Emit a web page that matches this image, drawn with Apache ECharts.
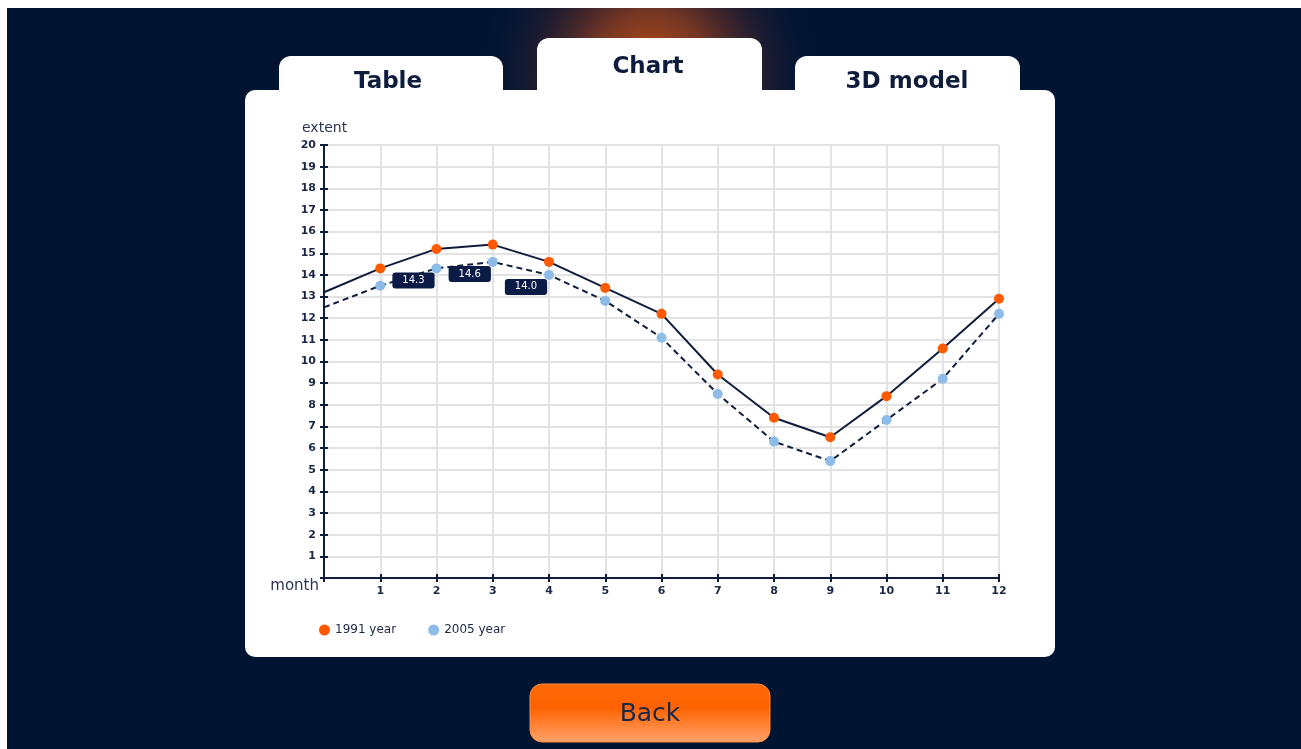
<!DOCTYPE html>
<html>
<head>
<meta charset="utf-8">
<title>Chart</title>
<script src="https://cdn.jsdelivr.net/npm/echarts@6/dist/echarts.min.js"></script>
<style>
  html, body { margin: 0; padding: 0; background: #ffffff; }
  #main { width: 1301px; height: 749px; }
</style>
</head>
<body>
<div id="main"></div>
<script>
// Monthly extent for two years (month 0 is the starting point of the curve, drawn without a marker)
const months = [0, 1, 2, 3, 4, 5, 6, 7, 8, 9, 10, 11, 12];
const extent1991 = [13.2, 14.3, 15.2, 15.4, 14.6, 13.4, 12.2, 9.4, 7.4, 6.5, 8.4, 10.6, 12.9];
const extent2005 = [12.5, 13.5, 14.3, 14.6, 14.0, 12.8, 11.1, 8.5, 6.3, 5.4, 7.3, 9.2, 12.2];
const labelledMonths2005 = [2, 3, 4];
const seriesNames = ['1991 year', '2005 year'];
const tabNames = ['Table', 'Chart', '3D model'];

const NAVY = '#0f1d3d';
const TEXT = '#1b2744';
const ORANGE = '#ff5a00';
const BLUE = '#8dbce8';

function buildData(values, labelled) {
  return months.map((m, i) => {
    const item = { value: [m, values[i]] };
    if (i === 0) item.symbol = 'none';
    if (labelled && labelled.indexOf(m) >= 0) {
      item.label = { show: true };
    }
    return item;
  });
}

const chart = echarts.init(document.getElementById('main'), null, { renderer: 'canvas' });

const option = {
  animation: false,
  textStyle: { fontFamily: 'DejaVu Sans' },
  graphic: [
    // page background
    { type: 'rect', z: -30, shape: { x: 7, y: 8, width: 1294, height: 741 }, style: { fill: '#011533' } },
    // glow behind the active tab, kept inside the dark area
    { type: 'rect', z: -29, shape: { x: 430, y: 8, width: 440, height: 240 },
      style: { fill: { type: 'radial', x: 650, y: 72, r: 175, global: true, colorStops: [
        { offset: 0, color: 'rgba(225,90,20,0.9)' },
        { offset: 0.35, color: 'rgba(190,75,25,0.6)' },
        { offset: 0.7, color: 'rgba(90,40,40,0.25)' },
        { offset: 1, color: 'rgba(1,21,51,0)' }
      ] } } },
    // tabs
    { type: 'rect', z: -28, shape: { x: 279, y: 56, width: 224, height: 50, r: [12, 12, 0, 0] }, style: { fill: '#ffffff' } },
    { type: 'rect', z: -28, shape: { x: 537, y: 38, width: 225, height: 68, r: [12, 12, 0, 0] }, style: { fill: '#ffffff' } },
    { type: 'rect', z: -28, shape: { x: 795, y: 56, width: 225, height: 50, r: [12, 12, 0, 0] }, style: { fill: '#ffffff' } },
    // card
    { type: 'rect', z: -27, shape: { x: 245, y: 90, width: 810, height: 567, r: 10 }, style: { fill: '#ffffff' } },
    // tab captions
    { type: 'text', z: -20, style: { x: 388, y: 82, text: tabNames[0], fill: NAVY, font: '600 23px "DejaVu Sans"', textAlign: 'center', textVerticalAlign: 'middle' } },
    { type: 'text', z: -20, style: { x: 648, y: 67, text: tabNames[1], fill: NAVY, font: '600 23px "DejaVu Sans"', textAlign: 'center', textVerticalAlign: 'middle' } },
    { type: 'text', z: -20, style: { x: 907, y: 82, text: tabNames[2], fill: NAVY, font: '600 23px "DejaVu Sans"', textAlign: 'center', textVerticalAlign: 'middle' } },
    // axis names
    { type: 'text', z: 10, style: { x: 302, y: 128, text: 'extent', fill: '#2a3552', font: '14px "DejaVu Sans"', textAlign: 'left', textVerticalAlign: 'middle' } },
    { type: 'text', z: 10, style: { x: 319, y: 586, text: 'month', fill: '#2a3552', font: '15px "DejaVu Sans"', textAlign: 'right', textVerticalAlign: 'middle' } },
    // back button
    { type: 'rect', z: -20, shape: { x: 530, y: 684, width: 240, height: 58, r: 12 },
      style: { fill: { type: 'linear', x: 0, y: 0, x2: 0, y2: 1, colorStops: [
        { offset: 0, color: '#ff6a0a' }, { offset: 0.4, color: '#ff6200' }, { offset: 1, color: '#ffa36a' }
      ] }, stroke: '#ff8a40', lineWidth: 1 } },
    { type: 'text', z: -19, style: { x: 650, y: 714, text: 'Back', fill: '#1b2744', font: '25px "DejaVu Sans"', textAlign: 'center', textVerticalAlign: 'middle' } }
  ],
  grid: { left: 324, top: 145, width: 675, height: 433, containLabel: false },
  legend: {
    left: 314, top: 619,
    icon: 'circle', itemWidth: 11, itemHeight: 11, itemGap: 32,
    textStyle: { fontSize: 12, color: TEXT, fontFamily: 'DejaVu Sans' },
    data: seriesNames
  },
  xAxis: [
    {
      type: 'value', min: 0, max: 12, interval: 1,
      axisLine: { show: true, onZero: false, lineStyle: { color: NAVY, width: 2 } },
      axisTick: { show: true, length: 4, lineStyle: { color: NAVY, width: 2 } },
      axisLabel: { margin: 8, fontSize: 11, fontWeight: 'bold', color: TEXT, formatter: v => v === 0 ? '' : String(v) },
      splitLine: { show: true, lineStyle: { color: '#e3e3e3', width: 2 } }
    },
    {
      type: 'value', min: 0, max: 12, interval: 1, position: 'bottom',
      axisLine: { show: false },
      axisTick: { show: true, inside: true, length: 4, lineStyle: { color: NAVY, width: 2 } },
      axisLabel: { show: false },
      splitLine: { show: false }
    }
  ],
  yAxis: [
    {
      type: 'value', min: 0, max: 20, interval: 1,
      axisLine: { show: true, onZero: false, lineStyle: { color: NAVY, width: 2 } },
      axisTick: { show: true, length: 4, lineStyle: { color: NAVY, width: 2 } },
      axisLabel: { margin: 8, fontSize: 11, fontWeight: 'bold', color: TEXT, formatter: v => v === 0 ? '' : String(v) },
      splitLine: { show: true, lineStyle: { color: '#e3e3e3', width: 2 } }
    },
    {
      type: 'value', min: 0, max: 20, interval: 1, position: 'left',
      axisLine: { show: false },
      axisTick: { show: true, inside: true, length: 4, lineStyle: { color: NAVY, width: 2 } },
      axisLabel: { show: false },
      splitLine: { show: false }
    }
  ],
  series: [
    {
      name: seriesNames[0], type: 'line', xAxisIndex: 0, yAxisIndex: 0,
      data: buildData(extent1991, null),
      symbol: 'circle', symbolSize: 10, showAllSymbol: true,
      lineStyle: { color: NAVY, width: 2 },
      itemStyle: { color: ORANGE, borderWidth: 0 },
      z: 3
    },
    {
      name: seriesNames[1], type: 'line', xAxisIndex: 0, yAxisIndex: 0,
      data: buildData(extent2005, labelledMonths2005),
      symbol: 'circle', symbolSize: 10, showAllSymbol: true,
      lineStyle: { color: NAVY, width: 2, type: [6, 4] },
      itemStyle: { color: BLUE, borderWidth: 0 },
      label: {
        show: false, position: 'inside', offset: [-23, 12],
        formatter: p => p.value[1].toFixed(1),
        color: '#ffffff', fontSize: 10, fontFamily: 'DejaVu Sans',
        backgroundColor: '#0a1c45', borderRadius: 3, padding: [3, 10, 3, 10]
      },
      z: 4
    }
  ]
};

chart.setOption(option);
</script>
</body>
</html>
